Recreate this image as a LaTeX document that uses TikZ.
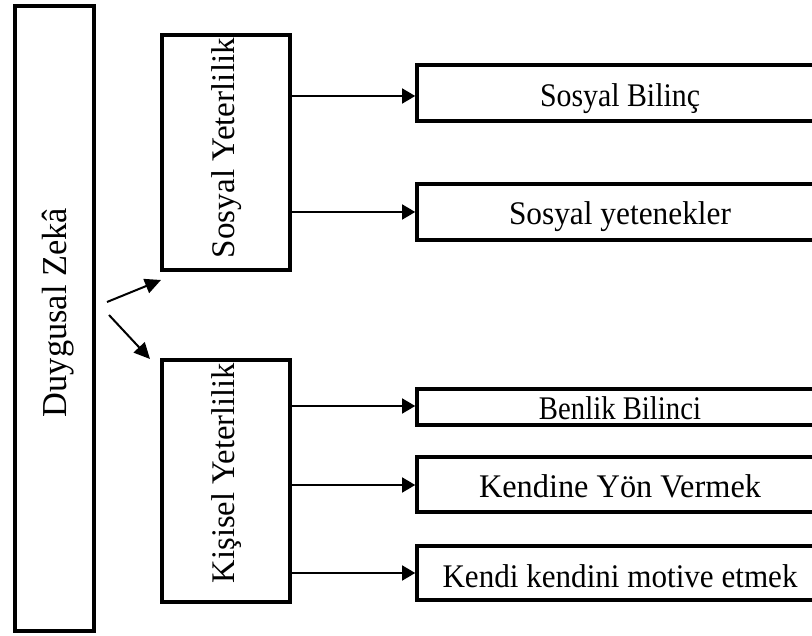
\documentclass[tikz,border=0pt]{standalone}
\usepackage{fontspec}
\usepackage{graphicx}
\setmainfont{Liberation Serif}
\usetikzlibrary{arrows.meta,calc}
\newcommand\fitw[2]{\resizebox{#1}{\height}{#2}}
\tikzset{
  boxx/.style={draw=black, line width=3.6pt, inner sep=0pt, fill=none},
  htext/.style={anchor=base, inner sep=0pt, font=\fontsize{33}{40}\selectfont},
  vtext/.style={anchor=base, rotate=90, inner sep=0pt, font=\fontsize{33}{40}\selectfont},
  arr/.style={line width=1.5pt, -{Triangle[length=13pt,width=15pt]}},
  darr/.style={line width=2pt, -{Triangle[length=16pt,width=15pt]}}
}
\begin{document}
\begin{tikzpicture}[x=1pt,y=-1pt]
\useasboundingbox (0,0) rectangle (812,636);
\fill[white] (0,0) rectangle (812,636);
% main boxes
\node[boxx, minimum width=79pt, minimum height=625pt] (dz) at (54.5,318.5) {};
\node[boxx, minimum width=128pt, minimum height=235pt] (sos) at (226,152.5) {};
\node[boxx, minimum width=128pt, minimum height=242pt] (kis) at (226,481) {};
% right boxes
\node[boxx, minimum width=406pt, minimum height=56pt] (sb) at (620,93) {};
\node[boxx, minimum width=406pt, minimum height=56pt] (sy) at (620,212) {};
\node[boxx, minimum width=406pt, minimum height=36pt] (bb) at (620,407) {};
\node[boxx, minimum width=406pt, minimum height=55pt] (ky) at (620,484.5) {};
\node[boxx, minimum width=406pt, minimum height=54pt] (kk) at (620,573) {};
% texts
\node[vtext, font=\fontsize{35}{42}\selectfont] (tdz) at (66,312.5) {\fitw{209pt}{Duygusal Zekâ}};
\node[vtext] (tsos) at (234,148) {\fitw{220pt}{Sosyal Yeterlilik}};
\node[vtext] (tkis) at (234,473) {\fitw{220pt}{Kişisel Yeterlilik}};
\node[htext] (tsb) at (620,107) {\fitw{160pt}{Sosyal Bilinç}};
\node[htext] (tsy) at (620,225) {\fitw{222pt}{Sosyal yetenekler}};
\node[htext] (tbb) at (620,420) {\fitw{162pt}{Benlik Bilinci}};
\node[htext] (tky) at (620,498) {\fitw{282pt}{Kendine Yön Vermek}};
\node[htext] (tkk) at (620,587) {\fitw{355pt}{Kendi kendini motive etmek}};
% connectors
\draw[arr] (sos.east |- 0,96) -- (sb.west |- 0,96);
\draw[arr] (sos.east |- sy.west) -- (sy.west);
\draw[arr] (kis.east |- 0,406) -- (bb.west |- 0,406);
\draw[arr] (kis.east |- 0,485) -- (ky.west |- 0,485);
\draw[arr] (kis.east |- kk.west) -- (kk.west);
% diagonal arrows
\coordinate (d1s) at (107,302);
\coordinate (d1e) at (161,280);
\coordinate (d2s) at (109,315);
\coordinate (d2e) at (150,359);
\draw[darr] (d1s) -- (d1e);
\draw[darr] (d2s) -- (d2e);
\end{tikzpicture}
\end{document}
